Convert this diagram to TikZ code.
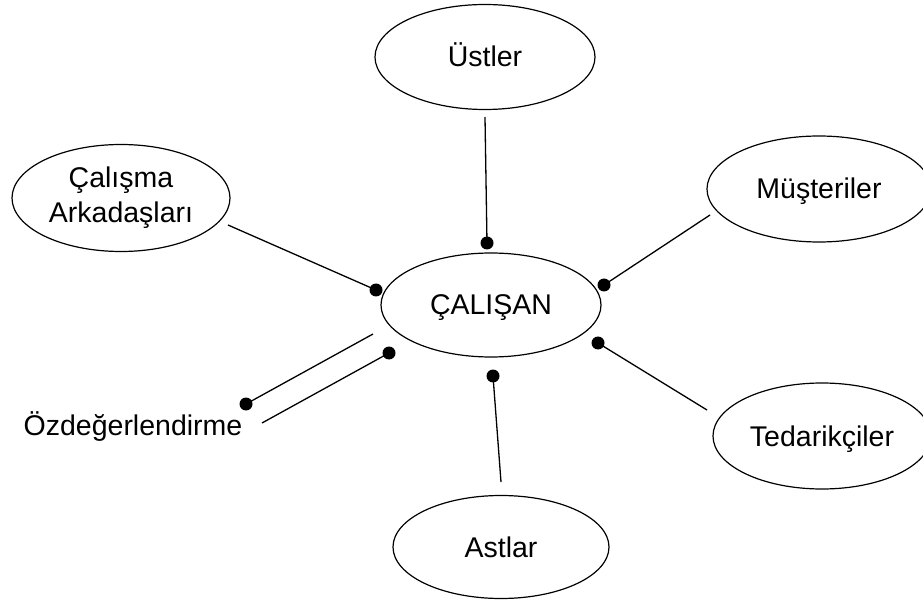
\documentclass[tikz,border=0pt]{standalone}
\usepackage{fontspec}
\setmainfont{Liberation Sans}
\usetikzlibrary{shapes.geometric}

\tikzset{
  party/.style={draw=black, line width=1.2pt, ellipse, inner sep=0pt,
    font=\fontsize{28.5}{35}\selectfont, text height=20pt, text depth=0pt},
  caption/.style={font=\fontsize{28.5}{35}\selectfont, text height=20pt, text depth=0pt, inner sep=0pt},
  link/.style={draw=black, line width=1.3pt},
  dot/.style={fill=black, draw=none},
}

\begin{document}
\begin{tikzpicture}[x=1pt, y=-1pt]
  \useasboundingbox (0,0) rectangle (923,601);
  \clip (0,0) rectangle (923,601);
  \fill[white] (0,0) rectangle (923,601);

  % parties around the employee
  \node[party, minimum width=220pt, minimum height=104pt] (emp) at (491,305) {ÇALIŞAN};
  \node[party, minimum width=220pt, minimum height=105pt] (ust) at (485,57) {Üstler};
  \node[party, minimum width=218pt, minimum height=107pt, text height=, text depth=, align=center]
       (cal) at (121,198) {Çalışma\\Arkadaşları};
  \node[party, minimum width=224pt, minimum height=106pt] (mus) at (819,189) {Müşteriler};
  \node[party, minimum width=218pt, minimum height=106pt] (ted) at (822,436) {Tedarikçiler};
  \node[party, minimum width=216pt, minimum height=103pt] (ast) at (501,547) {Astlar};
  \node[caption] (oz) at (133,425) {Özdeğerlendirme};

  % connector end points
  \coordinate (ustA) at (485,117);  \coordinate (ustB) at (487,243);
  \coordinate (calA) at (228,225);  \coordinate (calB) at (376,290);
  \coordinate (musA) at (710,215);  \coordinate (musB) at (604,285);
  \coordinate (tedA) at (707,410);  \coordinate (tedB) at (598,343);
  \coordinate (astA) at (501,482);  \coordinate (astB) at (493,376);
  \coordinate (ozA)  at (246,404);  \coordinate (ozB)  at (373,334);
  \coordinate (ozC)  at (262,423);  \coordinate (ozD)  at (389,353);

  % connectors
  \draw[link] (ustA) -- (ustB);
  \draw[link] (calA) -- (calB);
  \draw[link] (musA) -- (musB);
  \draw[link] (tedA) -- (tedB);
  \draw[link] (astA) -- (astB);
  \draw[link] (ozA) -- (ozB);
  \draw[link] (ozC) -- (ozD);

  % dot ends
  \foreach \p in {ustB, calB, musB, tedB, astB, ozA, ozD}
    \fill[dot] (\p) circle (6.5pt);
\end{tikzpicture}
\end{document}
